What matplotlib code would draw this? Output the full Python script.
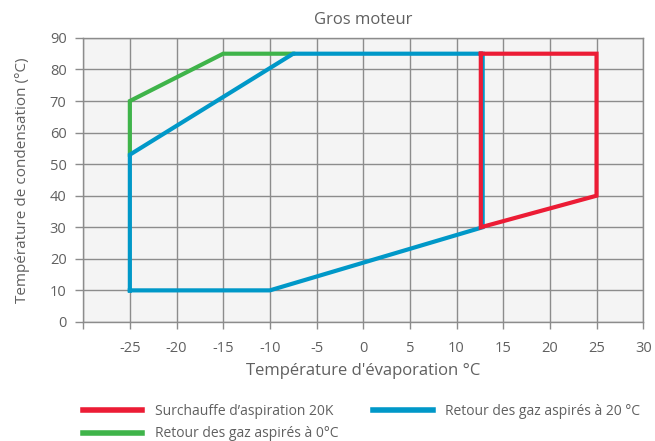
import matplotlib
matplotlib.use("Agg")
import matplotlib.pyplot as plt

plt.rcParams['font.family'] = ['Open Sans', 'DejaVu Sans']

title = "Gros moteur"
xlabel = "Température d'évaporation °C"
ylabel = "Température de condensation (°C)"

x_ticks = [-30, -25, -20, -15, -10, -5, 0, 5, 10, 15, 20, 25, 30]
x_ticklabels = ["", "-25", "-20", "-15", "-10", "-5", "0", "5", "10", "15", "20", "25", "30"]
y_ticks = [0, 10, 20, 30, 40, 50, 60, 70, 80, 90]

# Envelope series (evaporation °C, condensation °C)
green_label = "Retour des gaz aspirés à 0°C"
green_x = [-25, -25, -15, -7.5]
green_y = [53, 70, 85, 85]

blue_label = "Retour des gaz aspirés à 20 °C"
blue_x = [-25, -10, 12.8, 12.8, -7.5, -25, -25]
blue_y = [10, 10, 30, 85, 85, 53, 10]

red_label = "Surchauffe d’aspiration 20K"
red_x = [12.6, 25, 25, 12.6, 12.6]
red_y = [85, 85, 40, 30, 85]

RED = "#ec1c35"
GREEN = "#3fb44a"
BLUE = "#0098c8"
GRID = "#8c8c8c"
TEXT = "#606060"

fig = plt.figure(figsize=(6.55, 4.41), dpi=100)
ax = fig.add_axes([0.127, 0.270, 0.855, 0.644])
ax.set_facecolor("#f4f4f4")

lw = 3.0
l_green, = ax.plot(green_x, green_y, color=GREEN, lw=lw, solid_joinstyle='miter', zorder=3, label=green_label)
l_blue, = ax.plot(blue_x, blue_y, color=BLUE, lw=lw, solid_joinstyle='miter', zorder=4, label=blue_label)
l_red, = ax.plot(red_x, red_y, color=RED, lw=lw, solid_joinstyle='miter', zorder=5, label=red_label)

ax.set_xlim(-30, 30)
ax.set_ylim(0, 90)
ax.set_xticks(x_ticks)
ax.set_xticklabels(x_ticklabels)
ax.set_yticks(y_ticks)
ax.grid(True, color=GRID, lw=1.0, zorder=1)
ax.set_axisbelow(True)
for s in ax.spines.values():
    s.set_color(GRID)
    s.set_linewidth(1.0)
ax.tick_params(axis='x', length=5, width=1.0, color=GRID, labelcolor=TEXT, labelsize=10.5, pad=9)
ax.tick_params(axis='y', length=6, width=1.0, color=GRID, labelcolor=TEXT, labelsize=10.5, pad=6)

ax.set_title(title, color=TEXT, fontsize=12, pad=10)
ax.set_xlabel(xlabel, color=TEXT, fontsize=12, labelpad=5)
ax.set_ylabel(ylabel, color=TEXT, fontsize=11, labelpad=14)

leg = fig.legend(handles=[l_red, l_green, l_blue], labels=[red_label, green_label, blue_label],
                 ncol=2, loc='upper left', bbox_to_anchor=(0.1176, 0.097), frameon=False,
                 fontsize=10, handlelength=4.3, columnspacing=2.5, labelspacing=0.55,
                 handletextpad=0.9, borderaxespad=0)
for t in leg.get_texts():
    t.set_color(TEXT)
for h in leg.get_lines():
    h.set_linewidth(4.0)

fig.savefig("out.png", dpi=100)
